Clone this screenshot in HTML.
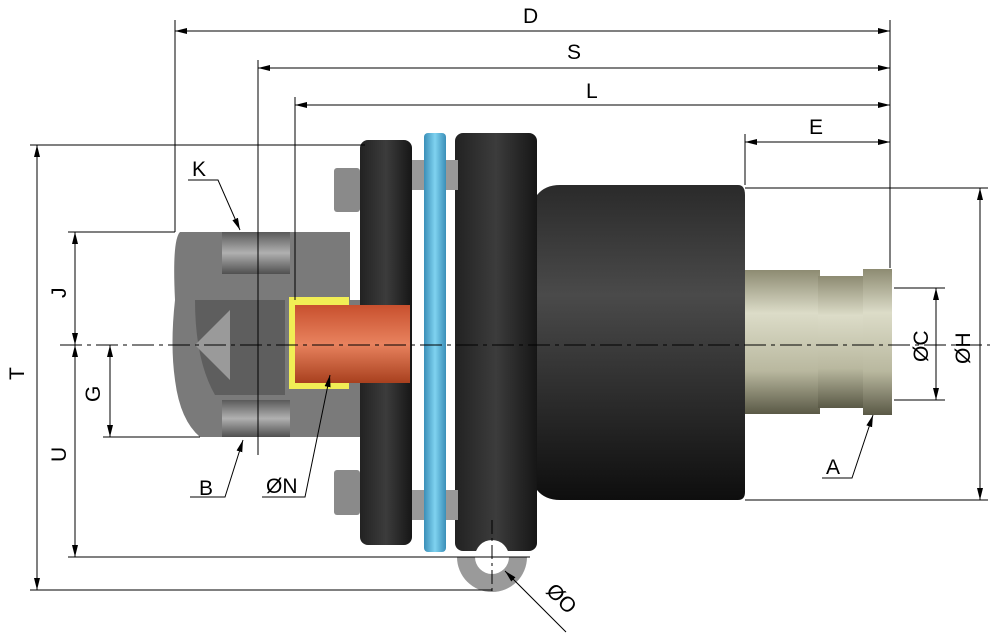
<!DOCTYPE html>
<html><head><meta charset="utf-8"><style>
html,body{margin:0;padding:0;background:#fff}
svg{display:block}
text{font-family:"Liberation Sans",sans-serif;font-size:21px;fill:#000}
</style></head><body>
<svg width="999" height="643" viewBox="0 0 999 643" xmlns="http://www.w3.org/2000/svg">
<defs>
<linearGradient id="dk" x1="0" y1="0" x2="0" y2="1">
<stop offset="0" stop-color="#2a2a2a"/><stop offset="0.35" stop-color="#4a4a4a"/><stop offset="0.6" stop-color="#333"/><stop offset="1" stop-color="#0e0e0e"/></linearGradient>
<linearGradient id="dkh" x1="0" y1="0" x2="1" y2="0">
<stop offset="0" stop-color="#222"/><stop offset="0.5" stop-color="#3c3c3c"/><stop offset="1" stop-color="#161616"/></linearGradient>
<linearGradient id="br" x1="0" y1="0" x2="0" y2="1">
<stop offset="0" stop-color="#8d8b72"/><stop offset="0.3" stop-color="#dcdcc8"/><stop offset="0.7" stop-color="#b9b89f"/><stop offset="1" stop-color="#5a5946"/></linearGradient>
<linearGradient id="bl" x1="0" y1="0" x2="1" y2="0">
<stop offset="0" stop-color="#3a8fb8"/><stop offset="0.5" stop-color="#7fd2f0"/><stop offset="1" stop-color="#3a8fb8"/></linearGradient>
<linearGradient id="cu" x1="0" y1="0" x2="0" y2="1">
<stop offset="0" stop-color="#c8502e"/><stop offset="0.5" stop-color="#e8825e"/><stop offset="1" stop-color="#a8401e"/></linearGradient>
<linearGradient id="gr" x1="0" y1="0" x2="0" y2="1">
<stop offset="0" stop-color="#5a5a5a"/><stop offset="0.5" stop-color="#b0b0b0"/><stop offset="1" stop-color="#505050"/></linearGradient>
<marker id="ar" markerWidth="12" markerHeight="8" refX="12" refY="4" orient="auto-start-reverse" markerUnits="userSpaceOnUse"><path d="M0,1 L12,4 L0,7 Z" fill="#000"/></marker>
</defs>

<!-- main cylinder -->
<path d="M537,195 Q545,185 560,185 L738,185 Q745,185 745,195 L745,492 Q745,500 738,500 L560,500 Q545,500 537,490 Z" fill="url(#dk)"/>
<!-- bronze -->
<rect x="745" y="270" width="75" height="144" fill="url(#br)"/>
<rect x="818" y="276" width="46" height="132" fill="url(#br)"/>
<rect x="863" y="269" width="29" height="146" fill="url(#br)"/>
<!-- right flange -->
<rect x="455" y="133" width="82" height="418" rx="8" fill="url(#dkh)"/>
<!-- eye -->
<path d="M457,557 A35,35 0 0 0 527,557 Z" fill="#9a9a9a"/>
<circle cx="492" cy="557" r="17" fill="#fff"/>
<!-- bolts threads -->
<rect x="410" y="160" width="48" height="30" fill="#999"/>
<rect x="410" y="490" width="48" height="30" fill="#999"/>
<!-- blue ring -->
<rect x="424" y="133" width="22" height="419" rx="4" fill="url(#bl)"/>
<!-- left flange -->
<rect x="360" y="140" width="52" height="405" rx="8" fill="url(#dkh)"/>
<!-- hex nuts -->
<rect x="334" y="168" width="26" height="44" rx="3" fill="#8a8a8a"/>
<rect x="334" y="470" width="26" height="45" rx="3" fill="#8a8a8a"/>
<!-- left body -->
<path d="M180,232 L350,232 L350,300 L360,300 L360,437 L200,437 Q180,420 175,380 Q170,345 175,300 Q172,240 180,232 Z" fill="#7a7a7a"/>
<rect x="222" y="232" width="68" height="42" fill="url(#gr)"/>
<rect x="222" y="400" width="68" height="37" fill="url(#gr)"/>
<path d="M195,300 L285,300 L285,395 L215,395 Q195,360 195,300 Z" fill="#5e5e5e"/>
<path d="M195,345 L230,310 L230,380 Z" fill="#9a9a9a"/>
<!-- copper + yellow -->
<rect x="289" y="297" width="60" height="92" fill="#f1ee55"/>
<rect x="295" y="305" width="115" height="78" fill="url(#cu)"/>

<g stroke="#000" stroke-width="1" fill="none">
<line x1="175" y1="20" x2="175" y2="232"/>
<line x1="890" y1="20" x2="890" y2="268"/>
<line x1="258" y1="60" x2="258" y2="455"/>
<line x1="295" y1="97" x2="295" y2="300"/>
<line x1="745" y1="134" x2="745" y2="185"/>
<line x1="30" y1="145" x2="365" y2="145"/>
<line x1="30" y1="590" x2="492" y2="590"/>
<line x1="68" y1="232" x2="175" y2="232"/>
<line x1="68" y1="557" x2="492" y2="557"/>
<line x1="103" y1="437" x2="200" y2="437"/>
<line x1="745" y1="188" x2="988" y2="188"/>
<line x1="745" y1="500" x2="988" y2="500"/>
<line x1="894" y1="288" x2="945" y2="288"/>
<line x1="894" y1="400" x2="945" y2="400"/>
<line x1="175" y1="31" x2="890" y2="31" marker-start="url(#ar)" marker-end="url(#ar)"/>
<line x1="258" y1="68" x2="890" y2="68" marker-start="url(#ar)" marker-end="url(#ar)"/>
<line x1="295" y1="105" x2="890" y2="105" marker-start="url(#ar)" marker-end="url(#ar)"/>
<line x1="745" y1="142" x2="890" y2="142" marker-start="url(#ar)" marker-end="url(#ar)"/>
<line x1="37" y1="145" x2="37" y2="590" marker-start="url(#ar)" marker-end="url(#ar)"/>
<line x1="75" y1="232" x2="75" y2="345" marker-start="url(#ar)" marker-end="url(#ar)"/>
<line x1="75" y1="345" x2="75" y2="557" marker-start="url(#ar)" marker-end="url(#ar)"/>
<line x1="110" y1="345" x2="110" y2="437" marker-start="url(#ar)" marker-end="url(#ar)"/>
<line x1="980" y1="188" x2="980" y2="500" marker-start="url(#ar)" marker-end="url(#ar)"/>
<line x1="936" y1="288" x2="936" y2="400" marker-start="url(#ar)" marker-end="url(#ar)"/>
<line x1="60" y1="345" x2="990" y2="345" stroke-dasharray="22,5,4,5"/>
<line x1="492" y1="520" x2="492" y2="592" stroke-dasharray="14,4,3,4"/>
<line x1="455" y1="557" x2="530" y2="557"/>
<polyline points="188,180 218,180 240,230" marker-end="url(#ar)"/>
<polyline points="190,497 225,497 243,440" marker-end="url(#ar)"/>
<polyline points="262,497 305,497 330,375" marker-end="url(#ar)"/>
<polyline points="822,478 852,478 873,415" marker-end="url(#ar)"/>
<line x1="566" y1="632" x2="505" y2="571" marker-end="url(#ar)"/>
</g>

<text x="523" y="23">D</text>
<text x="567" y="59">S</text>
<text x="586" y="98">L</text>
<text x="809" y="134">E</text>
<text x="192" y="176">K</text>
<text x="199" y="495">B</text>
<text x="266" y="493">ØN</text>
<text x="826" y="474">A</text>
<text transform="translate(24,380) rotate(-90)">T</text>
<text transform="translate(66,298) rotate(-90)">J</text>
<text transform="translate(66,462) rotate(-90)">U</text>
<text transform="translate(100,402) rotate(-90)">G</text>
<text transform="translate(928,362) rotate(-90)">ØC</text>
<text transform="translate(970,364) rotate(-90)">ØH</text>
<text transform="translate(545,592) rotate(45)">ØO</text>
</svg>
</body></html>
